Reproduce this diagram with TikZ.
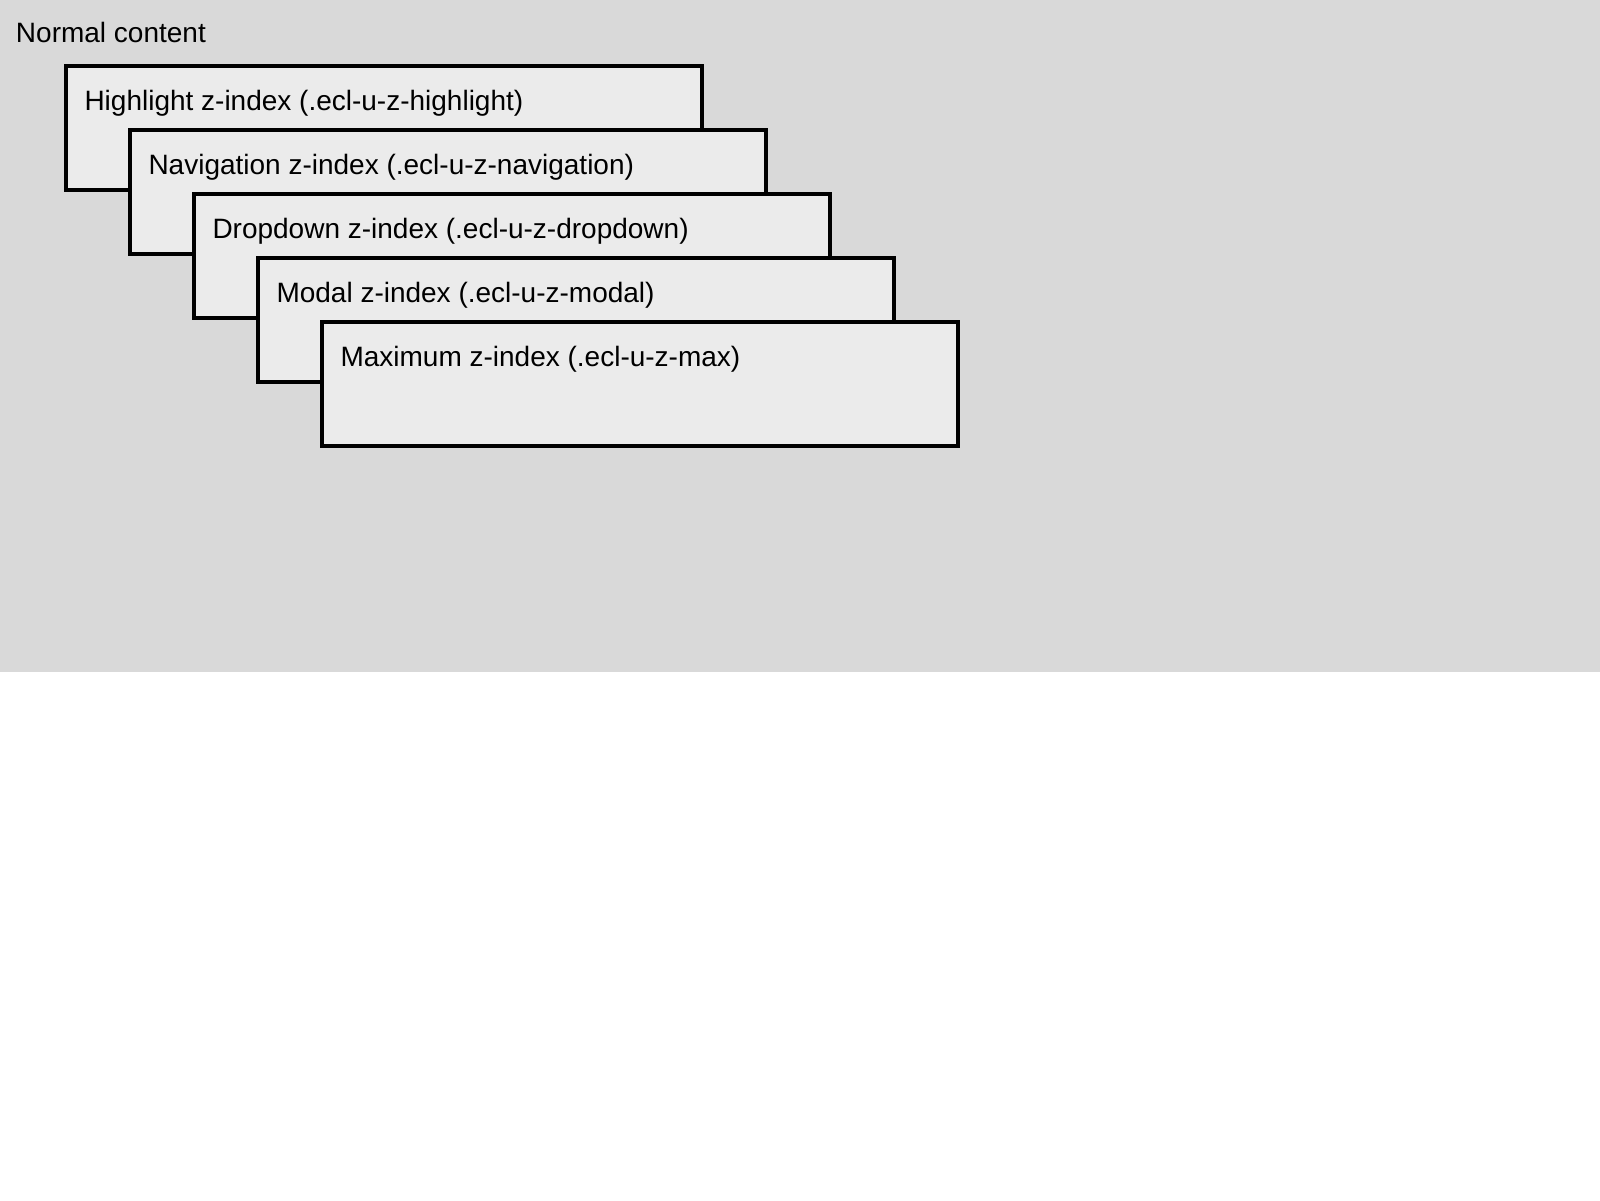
\documentclass[tikz,border=0pt]{standalone}
\usepackage{fontspec}
\setmainfont{Liberation Sans}
\definecolor{pagegray}{RGB}{217,217,217}
\definecolor{layerfill}{RGB}{235,235,235}
\begin{document}
\begin{tikzpicture}[x=0.5pt,y=-0.5pt,
  layerbox/.style={draw=black, fill=layerfill, line width=2pt, rectangle,
    minimum width=318pt, minimum height=62pt, inner sep=0pt, outer sep=0pt},
  layertext/.style={anchor=base west, inner sep=0pt, outer sep=0pt,
    font=\fontsize{14pt}{17pt}\selectfont}]
  % canvas
  \useasboundingbox (0,0) rectangle (1600,1200);
  \fill[white] (0,0) rectangle (1600,1200);
  \fill[pagegray] (0,0) rectangle (1600,672);
  \node[layertext] (normal) at (16,42.3) {Normal content};
  % stacked layers, each offset by 64px
  \foreach \i/\name/\txt in {0/hl/Highlight z-index (.ecl-u-z-highlight),
                             1/nav/Navigation z-index (.ecl-u-z-navigation),
                             2/dd/Dropdown z-index (.ecl-u-z-dropdown),
                             3/modal/Modal z-index (.ecl-u-z-modal),
                             4/max/Maximum z-index (.ecl-u-z-max)} {
    \node[layerbox] (\name) at ({384+64*\i},{128+64*\i}) {};
    \node[layertext] (\name-label) at ({84.5+64*\i},{110+64*\i}) {\txt};
  }
\end{tikzpicture}
\end{document}
